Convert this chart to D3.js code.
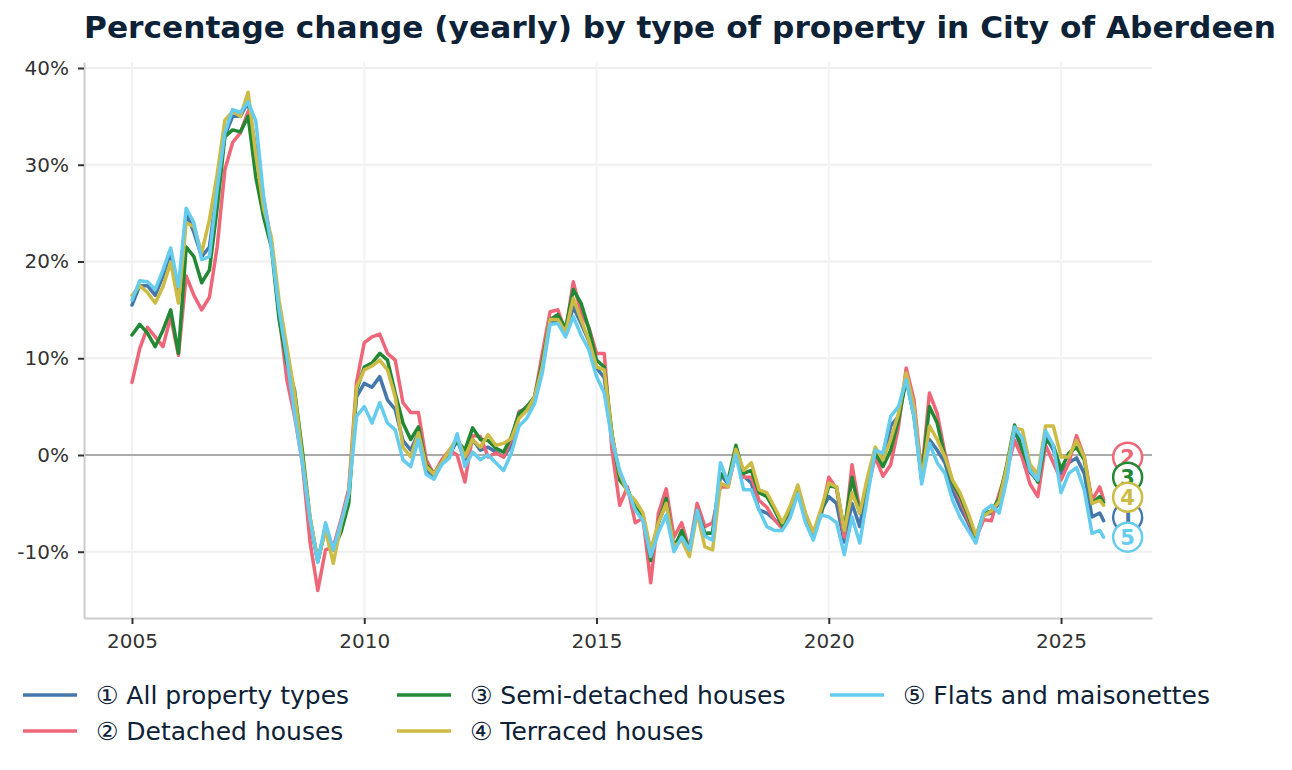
<!DOCTYPE html>
<html>
<head>
<meta charset="utf-8">
<script src="https://cdn.jsdelivr.net/npm/d3@7"></script>
<style>
  body { margin: 0; background: #ffffff; }
  text { font-family: "DejaVu Sans", sans-serif; }
</style>
</head>
<body>
<script>
const width = 1292;
const height = 770;

const titleText = "Percentage change (yearly) by type of property in City of Aberdeen";
const titleColor = "#0d2137";
const tickColor = "#333333";

// months since Jan 2005 (every second month, plus the last one)
const monthOffsets = d3.range(0, 252, 2).concat([251]);

const allTypes = [
  15.5, 17.5, 17.5, 16.5, 18.5, 21.0, 16.5, 25.0, 23.0, 20.5,
  21.5, 27.5, 33.0, 35.0, 35.0, 36.5, 31.5, 26.0, 22.0, 15.0,
  9.5, 5.0, -0.5, -7.0, -11.0, -7.5, -9.8, -7.2, -4.0, 6.0,
  7.4, 7.0, 8.1, 5.7, 4.7, 1.5, 0.5, 2.3, -1.5, -2.2,
  -0.8, 0.0, 1.5, -0.5, 1.6, 0.5, 0.8, 0.3, -0.2, 1.0,
  4.0, 4.6, 5.8, 9.0, 13.8, 13.8, 12.5, 15.3, 13.6, 11.8,
  9.0, 8.0, 2.0, -2.2, -3.6, -5.5, -6.2, -10.9, -7.0, -5.0,
  -9.5, -8.0, -10.0, -5.7, -8.2, -8.0, -2.0, -3.0, 0.2, -2.2,
  -2.9, -5.7, -6.0, -6.7, -7.3, -5.8, -3.5, -6.5, -8.3, -5.8,
  -4.3, -5.0, -9.0, -5.0, -7.4, -2.5, 0.3, -0.5, 3.0, 4.0,
  8.0, 4.5, -2.6, 1.6, 0.5, -0.8, -3.6, -5.5, -7.0, -8.8,
  -6.2, -6.0, -5.0, -1.5, 2.5, 0.5, -1.8, -2.6, 2.0, 0.5,
  -1.9, -0.8, -0.3, -1.9, -6.4, -6.0, -6.8
];
const detached = [
  7.5, 11.0, 13.2, 12.2, 11.2, 14.3, 10.3, 18.5, 16.5, 15.0,
  16.3, 21.5, 29.5, 32.3, 33.3, 35.5, 31.0, 26.5, 22.0, 14.5,
  7.8, 4.0, -0.8, -9.0, -14.0, -9.8, -9.5, -6.7, -3.5, 7.5,
  11.6, 12.2, 12.5, 10.5, 9.8, 5.4, 4.4, 4.4, -0.5, -2.0,
  -0.5, 0.5, 0.0, -2.8, 2.0, 1.9, -0.2, 0.2, -0.2, 1.6,
  4.5, 4.8, 6.0, 10.5, 14.8, 15.0, 12.7, 17.9, 14.7, 13.2,
  10.5, 10.5, 0.5, -5.2, -3.3, -7.0, -6.5, -13.2, -6.0, -3.5,
  -8.5, -7.0, -9.8, -5.0, -7.4, -7.0, -3.3, -3.3, 0.3, -2.3,
  -2.3, -4.7, -5.4, -6.7, -7.6, -5.8, -3.5, -6.5, -8.0, -6.3,
  -2.3, -3.5, -8.5, -1.0, -5.7, -3.6, -0.2, -2.2, -1.0, 2.9,
  9.0, 5.7, -2.0, 6.4, 4.3, 0.2, -2.9, -4.7, -6.7, -8.6,
  -6.7, -6.8, -4.0, -1.6, 1.5, -0.3, -3.0, -4.3, 1.0, -0.8,
  -2.6, -0.8, 2.0, -0.2, -4.7, -3.3, -4.6
];
const semiDetached = [
  12.4, 13.5, 12.6, 11.2, 12.9, 15.0, 10.5, 21.5, 20.5, 17.8,
  19.1, 25.5, 32.9, 33.6, 33.4, 35.0, 28.7, 24.6, 21.5, 14.0,
  9.5, 6.7, 0.5, -6.5, -11.0, -7.5, -9.8, -8.0, -5.0, 6.7,
  9.1, 9.5, 10.5, 9.8, 6.4, 3.3, 1.6, 2.9, -1.0, -2.0,
  -0.8, 0.3, 1.5, 0.5, 2.8, 1.6, 1.5, 0.7, 0.3, 1.9,
  4.3, 5.0, 6.0, 9.6, 14.0, 14.5, 13.1, 17.1, 15.7, 13.1,
  9.8, 9.1, 2.2, -2.6, -3.6, -5.4, -6.3, -10.9, -7.0, -4.5,
  -9.8, -7.8, -9.8, -5.7, -8.1, -8.1, -1.9, -2.6, 1.0, -1.9,
  -1.6, -3.9, -4.3, -5.7, -7.3, -5.5, -3.5, -6.5, -8.2, -6.0,
  -3.2, -3.3, -7.8, -2.3, -6.0, -2.9, 0.2, -1.2, 0.5, 3.6,
  7.8, 4.0, -2.2, 5.0, 3.3, -0.2, -2.9, -4.3, -6.3, -8.5,
  -6.0, -5.8, -4.5, -1.0, 3.1, 0.5, -1.5, -2.8, 1.5, 1.0,
  -1.5, 0.2, 0.8, -0.5, -5.0, -4.3, -4.9
];
const terraced = [
  16.5, 17.5, 16.8, 15.7, 17.4, 19.9, 15.7, 24.0, 23.6, 20.9,
  24.3, 29.0, 34.6, 35.5, 35.0, 37.5, 31.0, 25.5, 22.5, 16.0,
  11.2, 6.4, -0.2, -6.5, -10.8, -7.8, -11.2, -7.2, -4.0, 7.0,
  8.8, 9.2, 9.8, 8.8, 6.0, 0.8, -0.2, 2.3, -1.2, -2.0,
  -0.8, 0.5, 1.8, -0.2, 1.6, 0.8, 2.1, 1.0, 1.2, 1.7,
  3.8, 4.6, 6.0, 9.1, 14.0, 14.0, 12.7, 16.2, 14.0, 11.9,
  9.1, 8.8, 2.0, -1.9, -3.9, -4.7, -6.0, -9.8, -7.0, -5.0,
  -9.5, -8.8, -10.5, -6.0, -9.5, -9.8, -2.9, -3.3, 0.6, -1.6,
  -0.8, -3.6, -3.9, -5.4, -7.0, -5.3, -3.1, -6.0, -8.0, -5.6,
  -2.9, -3.3, -7.8, -3.9, -6.0, -2.3, 0.8, -0.5, 1.6, 4.3,
  8.5, 5.0, -2.5, 3.0, 1.6, -0.2, -2.6, -4.0, -6.0, -8.3,
  -6.3, -5.8, -4.8, -1.2, 2.8, 2.6, -1.0, -2.0, 3.0, 3.0,
  -0.2, -0.2, 1.5, -0.2, -5.0, -4.7, -5.2
];
const flats = [
  16.0, 18.0, 17.9, 17.1, 19.1, 21.4, 17.4, 25.5, 24.0, 20.2,
  20.5, 27.5, 33.3, 35.7, 35.4, 36.5, 34.5, 26.7, 21.5, 15.0,
  10.1, 4.3, -0.8, -6.7, -11.1, -7.0, -9.8, -7.0, -4.0, 4.0,
  5.0, 3.3, 5.4, 3.3, 2.6, -0.5, -1.2, 1.6, -2.0, -2.5,
  -1.0, -0.3, 2.2, -1.2, 0.3, -0.5, 0.0, -0.8, -1.6, 0.2,
  3.0, 3.8, 5.3, 8.5, 13.5, 13.6, 12.2, 14.3, 12.4, 10.9,
  8.1, 6.4, 1.5, -1.6, -3.6, -5.7, -6.8, -10.5, -8.0, -6.2,
  -10.0, -8.5, -9.8, -5.7, -8.4, -8.8, -0.8, -2.9, 0.0, -3.6,
  -3.6, -5.7, -7.4, -7.8, -7.8, -6.5, -4.0, -7.0, -8.8, -6.2,
  -6.4, -7.0, -10.3, -6.4, -9.1, -4.3, 0.5, 0.2, 4.0, 5.0,
  7.8, 4.0, -3.0, 1.2, -0.8, -1.9, -4.7, -6.5, -7.8, -9.1,
  -5.8, -5.2, -6.0, -2.5, 2.9, 1.7, -1.6, -2.6, 2.5, 1.0,
  -3.9, -1.9, -1.3, -3.6, -8.1, -7.8, -8.5
];

const seriesNames = [
  "All property types",
  "Detached houses",
  "Semi-detached houses",
  "Terraced houses",
  "Flats and maisonettes"
];
const seriesMarks = ["\u2460", "\u2461", "\u2462", "\u2463", "\u2464"];
const seriesColors = ["#4477AA", "#EE6677", "#228833", "#CCBB44", "#66CCEE"];
const seriesValues = [allTypes, detached, semiDetached, terraced, flats];

const xTicks = [2005, 2010, 2015, 2020, 2025];
const yTicks = [-10, 0, 10, 20, 30, 40];

// build series table
const series = seriesNames.map(function (name, i) {
  return {
    name: name,
    mark: seriesMarks[i],
    number: i + 1,
    color: seriesColors[i],
    points: monthOffsets.map(function (m, j) {
      return {year: 2005 + m / 12, value: seriesValues[i][j]};
    })
  };
});

const plotLeft = 84;
const plotRight = 1152;
const plotTop = 62;
const plotBottom = 618;

const x = d3.scaleLinear()
  .domain([2003.967, 2026.958])
  .range([plotLeft, plotRight]);

const y = d3.scaleLinear()
  .domain([-16.85, 40.62])
  .range([plotBottom, plotTop]);

const svg = d3.select("body")
  .append("svg")
  .attr("width", width)
  .attr("height", height);

// title
svg.append("text")
  .text(titleText)
  .attr("x", 84)
  .attr("y", 38)
  .attr("fill", titleColor)
  .attr("textLength", 1192)
  .attr("lengthAdjust", "spacingAndGlyphs")
  .style("font-weight", "bold")
  .style("font-size", "30px");

// grid
svg.append("g")
  .selectAll("line")
  .data(yTicks.filter(function (d) { return d !== 0; }))
  .enter()
  .append("line")
  .attr("x1", plotLeft)
  .attr("x2", plotRight)
  .attr("y1", function (d) { return y(d); })
  .attr("y2", function (d) { return y(d); })
  .attr("stroke", "#efefef")
  .attr("stroke-width", 2);

svg.append("g")
  .selectAll("line")
  .data(xTicks)
  .enter()
  .append("line")
  .attr("x1", function (d) { return x(d); })
  .attr("x2", function (d) { return x(d); })
  .attr("y1", plotTop)
  .attr("y2", plotBottom)
  .attr("stroke", "#f3f3f3")
  .attr("stroke-width", 2);

// zero line
svg.append("line")
  .attr("x1", plotLeft)
  .attr("x2", plotRight)
  .attr("y1", y(0))
  .attr("y2", y(0))
  .attr("stroke", "#aaaaaa")
  .attr("stroke-width", 2);

// axes
const yAxis = svg.append("g")
  .attr("transform", "translate(" + plotLeft + ",0)")
  .call(d3.axisLeft(y)
    .tickValues(yTicks)
    .tickFormat(function (d) { return d + "%"; })
    .tickSize(6)
    .tickSizeOuter(0)
    .tickPadding(9));

const xAxis = svg.append("g")
  .attr("transform", "translate(0," + plotBottom + ")")
  .call(d3.axisBottom(x)
    .tickValues(xTicks)
    .tickFormat(d3.format("d"))
    .tickSize(6)
    .tickSizeOuter(0)
    .tickPadding(10));

[yAxis, xAxis].forEach(function (axis) {
  axis.select(".domain")
    .attr("stroke", "#cccccc")
    .attr("stroke-width", 2);
  axis.selectAll(".tick line")
    .attr("stroke", tickColor)
    .attr("stroke-width", 2);
  axis.selectAll(".tick text")
    .attr("fill", tickColor)
    .style("font-family", "DejaVu Sans, sans-serif")
    .style("font-size", "20px");
});

// lines
const lineFunc = d3.line()
  .x(function (d) { return x(d.year); })
  .y(function (d) { return y(d.value); });

svg.append("g")
  .selectAll("path")
  .data(series)
  .enter()
  .append("path")
  .attr("d", function (d) { return lineFunc(d.points); })
  .attr("fill", "none")
  .attr("stroke", function (d) { return d.color; })
  .attr("stroke-width", 3.5)
  .attr("stroke-linejoin", "round")
  .attr("stroke-linecap", "round");

// end labels, pushed apart from the bottom up
const gap = 20;
const ends = series.map(function (s) {
  const last = s.points[s.points.length - 1];
  return {s: s, x: x(last.year) + 24, y: y(last.value)};
});
const byY = ends.slice().sort(function (a, b) { return b.y - a.y; });
for (let i = 1; i < byY.length; i++) {
  byY[i].y = Math.min(byY[i].y, byY[i - 1].y - gap);
}

const endLabels = svg.append("g")
  .selectAll("g")
  .data(ends)
  .enter()
  .append("g")
  .attr("transform", function (d) { return "translate(" + d.x + "," + d.y + ")"; });

endLabels.append("circle")
  .attr("r", 14.5)
  .attr("fill", "#ffffff")
  .attr("stroke", function (d) { return d.s.color; })
  .attr("stroke-width", 2.5);

endLabels.append("text")
  .text(function (d) { return d.s.number; })
  .attr("text-anchor", "middle")
  .attr("dy", "0.36em")
  .attr("fill", function (d) { return d.s.color; })
  .style("font-weight", "bold")
  .style("font-size", "21px");

// legend: three columns, filled top to bottom
const legendCols = [23, 397, 830];
const legendRows = [695, 731];

const legend = svg.append("g")
  .selectAll("g")
  .data(series)
  .enter()
  .append("g")
  .attr("transform", function (d, i) {
    return "translate(" + legendCols[Math.floor(i / 2)] + "," + legendRows[i % 2] + ")";
  });

legend.append("line")
  .attr("x1", 0)
  .attr("x2", 54)
  .attr("stroke", function (d) { return d.color; })
  .attr("stroke-width", 3.5);

legend.append("text")
  .text(function (d) { return d.mark + " " + d.name; })
  .attr("x", 73)
  .attr("dy", "0.35em")
  .attr("fill", titleColor)
  .style("font-size", "25px");
</script>
</body>
</html>
